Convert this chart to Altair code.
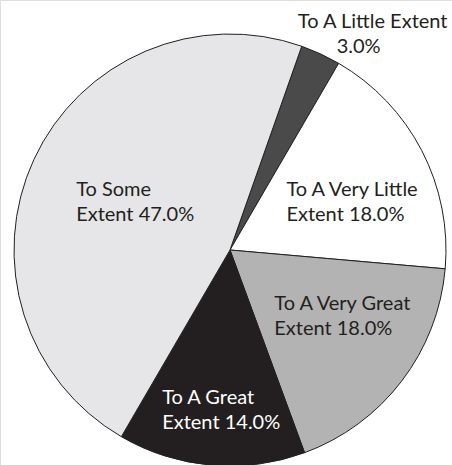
import math
import altair as alt
import pandas as pd

categories = ["To A Little Extent", "To A Very Little Extent", "To A Very Great Extent",
              "To A Great Extent", "To Some Extent"]
values = [3.0, 18.0, 18.0, 14.0, 47.0]
line1 = ["To A Little Extent", "To A Very Little", "To A Very Great", "To A Great", "To Some"]
line2_prefix = ["", "Extent ", "Extent ", "Extent ", "Extent "]
colors = ["#4a4a4a", "#ffffff", "#b3b3b3", "#231f20", "#e6e6e8"]

df = pd.DataFrame({
    "category": categories,
    "value": values,
    "idx": list(range(len(categories))),
    "l1": line1,
    "l2": [p + f"{v:.1f}%" for p, v in zip(line2_prefix, values)],
})
df["label"] = df["l1"] + "\n" + df["l2"]

start = math.radians(19.4)
theta_scale = alt.Scale(range=[start, start + 2 * math.pi])
CX, CY, R = 230, 250, 216

base = alt.Chart(df).encode(
    theta=alt.Theta("value:Q", stack=True, scale=theta_scale),
    order=alt.Order("idx:Q"),
    x=alt.value(CX),
    y=alt.value(CY),
)

pie = base.mark_arc(outerRadius=R, stroke="#231f20", strokeWidth=1).encode(
    color=alt.Color("category:N", scale=alt.Scale(domain=categories, range=colors), legend=None)
)

FONT = "Lato"
SIZE = 20


def label_layer(cat, field, radius, dx, dy, align="left", color="#231f20"):
    return base.mark_text(
        radius=radius, dx=dx, dy=dy, align=align, baseline="alphabetic",
        font=FONT, fontSize=SIZE, lineBreak="\n", lineHeight=25, color=color,
    ).encode(
        text=alt.condition(f"datum.category === '{cat}'", alt.Text(f"{field}:N"), alt.value(""))
    )


layers = [
    pie,
    label_layer("To Some Extent", "label", 110, -54, -8),
    label_layer("To A Very Little Extent", "label", 130, -59, 5.5),
    label_layer("To A Very Great Extent", "label", 130, -59, -19),
    label_layer("To A Great Extent", "label", 170, -53, -15.4, color="#ffffff"),
    label_layer("To A Little Extent", "l1", 240, 42, -3.8, align="center"),
    label_layer("To A Little Extent", "l2", 240, 28, 21.2, align="center"),
]

chart = alt.layer(*layers).properties(
    width=452, height=465, padding=0, autosize=alt.AutoSizeParams(type="none")
).configure_view(stroke=None).configure(background="#ffffff")

chart.save("out.html", embed_options={"renderer": "svg", "actions": False})
